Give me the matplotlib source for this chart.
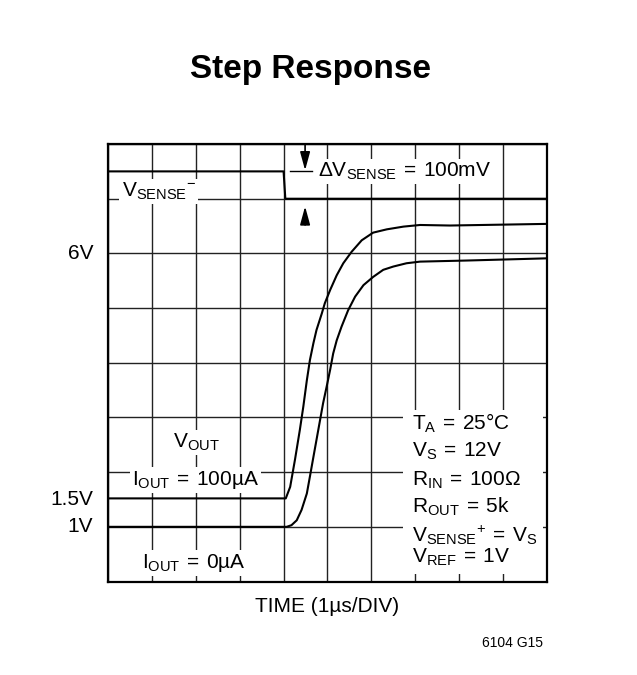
import numpy as np
import matplotlib
matplotlib.use('Agg')
import matplotlib.pyplot as plt
from matplotlib.patches import Rectangle

FONT = 'Liberation Sans'
plt.rcParams['font.family'] = [FONT, 'DejaVu Sans']
plt.rcParams['mathtext.fontset'] = 'custom'
plt.rcParams['mathtext.rm'] = FONT
plt.rcParams['mathtext.it'] = FONT + ':italic'
plt.rcParams['mathtext.bf'] = FONT + ':bold'

# traces (time in us / div, volts)
t_sense = [0, 4.0, 4.04, 10]
v_sense = [7.5, 7.5, 7.0, 7.0]

t_out100 = [0, 4.05, 4.15, 4.26, 4.37, 4.45, 4.53, 4.60, 4.68, 4.75, 4.87, 4.94,
            5.06, 5.21, 5.36, 5.55, 5.78, 6.04, 6.35, 6.73, 7.11, 7.79, 10]
v_out100 = [1.52, 1.52, 1.73, 2.23, 2.77, 3.20, 3.68, 4.05, 4.36, 4.60, 4.90, 5.09,
            5.33, 5.60, 5.82, 6.03, 6.24, 6.38, 6.44, 6.49, 6.52, 6.51, 6.54]

t_out0 = [0, 4.07, 4.18, 4.30, 4.41, 4.53, 4.60, 4.68, 4.79, 4.90, 4.98, 5.06, 5.13,
          5.21, 5.32, 5.47, 5.63, 5.82, 6.04, 6.27, 6.50, 6.80, 7.11, 8.18, 10]
v_out0 = [1.0, 1.0, 1.03, 1.12, 1.31, 1.61, 1.92, 2.28, 2.77, 3.26, 3.56, 3.87, 4.17,
          4.41, 4.66, 4.96, 5.21, 5.42, 5.57, 5.70, 5.76, 5.82, 5.85, 5.87, 5.91]

ytick_vals = [6, 1.5, 1]
ytick_labels = ['6V', '1.5V', '1V']

cond_lines = [r'$\mathrm{T_A\:=\:25°C}$',
              r'$\mathrm{V_S\:=\:12V}$',
              r'$\mathrm{R_{IN}\:=\:100Ω}$',
              r'$\mathrm{R_{OUT}\:=\:5k}$',
              r'$\mathrm{V_{SENSE}}^{+}\mathrm{\:=\:V_S}$',
              r'$\mathrm{V_{REF}\:=\:1V}$']
cond_y = [2.77, 2.28, 1.75, 1.25, 0.73, 0.34]

FS = 15

fig = plt.figure(figsize=(6.37, 6.75), dpi=100)
ax = fig.add_axes([0.1695, 0.1385, 0.6892, 0.6481])
ax.set_xlim(0, 10)
ax.set_ylim(0, 8)
ax.set_xticks(np.arange(0, 11, 1))
ax.set_yticks(np.arange(0, 9, 1))
ax.grid(True, color='#222222', linewidth=1.0)
ax.tick_params(length=0, labelbottom=False, labelleft=False)
for s in ax.spines.values():
    s.set_linewidth(1.6)

# tick labels on the left
for v, lab in zip(ytick_vals, ytick_labels):
    ax.text(-0.34, v, lab, ha='right', va='center', fontsize=FS)

lw = 1.5
ax.plot(t_sense, v_sense, color='black', lw=lw, zorder=5)
ax.plot(t_out100, v_out100, color='black', lw=lw, zorder=5)
ax.plot(t_out0, v_out0, color='black', lw=lw, zorder=5)

box = dict(facecolor='white', edgecolor='none', pad=1.5)
ax.text(0.31, 7.03, r'$\mathrm{V_{SENSE}}^{-}$', fontsize=FS, va='baseline', bbox=box, zorder=4)
ax.text(4.78, 7.40, r'$\mathrm{ΔV_{SENSE}\:=\:100mV}$', fontsize=FS, va='baseline', bbox=box, zorder=4)
ax.text(1.48, 2.44, r'$\mathrm{V_{OUT}}$', fontsize=FS, va='baseline', bbox=box, zorder=4)
ax.text(0.54, 1.765, r'$\mathrm{I_{OUT}\:=\:100µA}$', fontsize=FS, va='baseline', bbox=box, zorder=4)
ax.text(0.77, 0.25, r'$\mathrm{I_{OUT}\:=\:0µA}$', fontsize=FS, va='baseline', bbox=box, zorder=4)

ax.add_patch(Rectangle((6.72, 0.14), 3.2, 3.0, facecolor='white', edgecolor='none', zorder=3))
for lab, y in zip(cond_lines, cond_y):
    ax.text(6.92, y, lab, fontsize=FS, va='baseline', zorder=4)

# delta V arrows
arr = dict(arrowstyle='-|>,head_length=1.1,head_width=0.3', color='black', lw=1.2,
           shrinkA=0, shrinkB=0, mutation_scale=10)
ax.annotate('', xy=(4.49, 7.52), xytext=(4.49, 8.0), arrowprops=arr, zorder=6)
ax.annotate('', xy=(4.49, 6.86), xytext=(4.49, 6.52), arrowprops=arr, zorder=6)
ax.plot([4.15, 4.64], [7.5, 7.5], color='black', lw=1.0, zorder=6)

ax.set_xlabel('TIME (1µs/DIV)', fontsize=FS, labelpad=11)

fig.text(0.4875, 0.884, 'Step Response', ha='center', va='baseline',
         fontsize=24, fontweight='bold')
fig.text(0.852, 0.0415, '6104 G15', ha='right', va='baseline', fontsize=10)

fig.savefig('out.png', dpi=100)
